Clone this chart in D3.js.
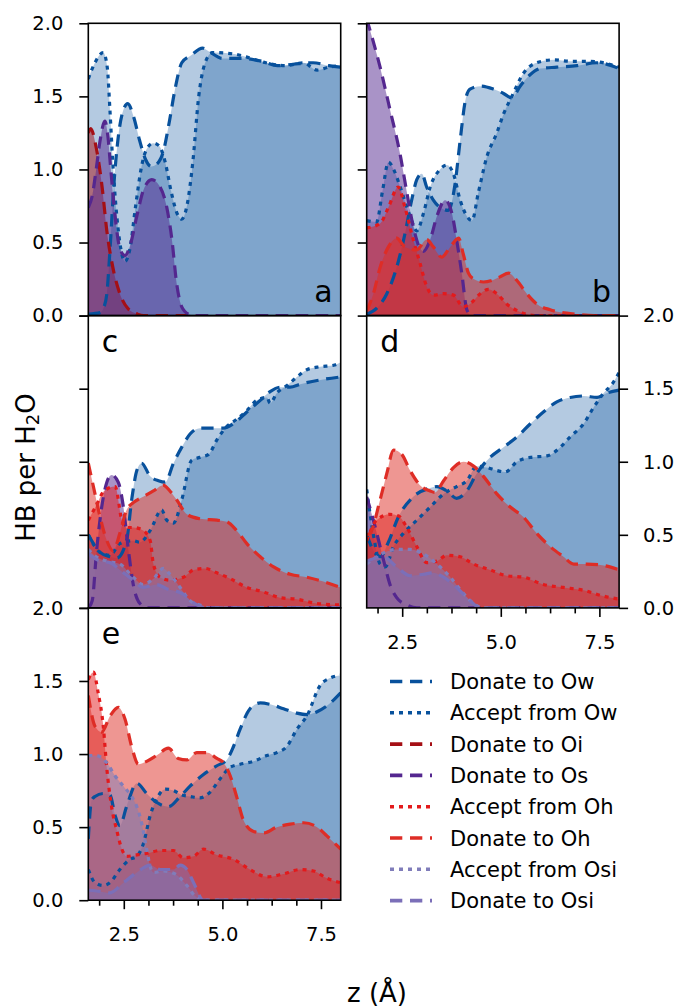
<!DOCTYPE html>
<html>
<head>
<meta charset="utf-8">
<script src="https://cdn.jsdelivr.net/npm/d3@7"></script>
<style>
  body { margin: 0; background: #fff; }
  text { font-family: "DejaVu Sans", sans-serif; }
</style>
</head>
<body>
<script>
// ---- data: [z (Å), HB per H2O] ----
const zTicks = [2.5, 5.0, 7.5];
const zMinorTicks = [1.875, 3.125, 3.75, 4.375, 5.625, 6.25, 6.875];
const yTicks = [0, 0.5, 1.0, 1.5, 2.0];

const seriesKeys = ["donOw", "accOw", "donOi", "donOs", "accOh", "donOh", "accOsi", "donOsi"];
const seriesLabels = ["Donate to Ow", "Accept from Ow", "Donate to Oi", "Donate to Os",
  "Accept from Oh", "Donate to Oh", "Accept from Osi", "Donate to Osi"];

// panel a
const a_donOw = [[1.6,0.01],[1.9,0.02],[2.0,0.06],[2.07,0.15],[2.15,0.45],[2.25,0.9],[2.35,1.2],[2.45,1.37],[2.6,1.45],[2.75,1.36],[2.9,1.2],[3.05,1.07],[3.2,1.02],[3.35,1.04],[3.5,1.12],[3.65,1.32],[3.8,1.55],[3.97,1.73],[4.2,1.78],[4.5,1.83],[4.7,1.8],[5.0,1.76],[5.5,1.76],[6.0,1.74],[6.4,1.71],[6.8,1.72],[7.3,1.73],[7.7,1.71],[8.0,1.70]];
const a_accOw = [[1.6,1.62],[1.75,1.72],[1.98,1.8],[2.08,1.7],[2.15,1.4],[2.22,1.05],[2.3,0.75],[2.4,0.5],[2.53,0.37],[2.65,0.45],[2.8,0.75],[2.95,1.02],[3.08,1.14],[3.25,1.18],[3.4,1.16],[3.55,1.05],[3.7,0.85],[3.85,0.7],[3.97,0.66],[4.1,0.75],[4.25,1.05],[4.4,1.5],[4.55,1.72],[4.75,1.8],[5.3,1.79],[5.6,1.77],[6.1,1.73],[6.6,1.71],[7.05,1.73],[7.4,1.68],[7.7,1.7],[8.0,1.71]];
const a_donOi = [[1.6,1.25],[1.66,1.28],[1.8,1.15],[1.95,0.88],[2.07,0.58],[2.23,0.32],[2.4,0.15],[2.6,0.05],[2.85,0.01],[3.0,0],[8.0,0]];
const a_donOs = [[1.6,0.74],[1.7,0.82],[1.8,1.0],[1.9,1.2],[2.02,1.33],[2.1,1.22],[2.17,1.0],[2.28,0.68],[2.4,0.46],[2.53,0.41],[2.66,0.48],[2.83,0.68],[3.0,0.86],[3.21,0.93],[3.42,0.88],[3.59,0.74],[3.72,0.52],[3.84,0.22],[3.97,0.06],[4.14,0.01],[4.3,0],[8.0,0]];

// panel b
const b_donOw = [[1.6,0.01],[1.85,0.05],[2.11,0.15],[2.36,0.33],[2.57,0.56],[2.74,0.79],[2.87,0.93],[3.0,0.97],[3.12,0.88],[3.29,0.79],[3.46,0.74],[3.67,0.72],[3.84,0.9],[3.97,1.2],[4.1,1.47],[4.22,1.55],[4.48,1.57],[4.81,1.55],[5.07,1.52],[5.28,1.49],[5.49,1.57],[5.75,1.65],[6.0,1.69],[6.42,1.70],[6.93,1.71],[7.44,1.73],[8.0,1.69]];
const b_accOw = [[1.6,0.65],[1.85,0.64],[2.0,0.85],[2.15,1.05],[2.3,0.99],[2.45,0.88],[2.7,0.68],[2.87,0.58],[3.04,0.7],[3.21,0.88],[3.46,1.0],[3.63,1.03],[3.8,0.97],[3.97,0.79],[4.14,0.68],[4.27,0.65],[4.43,0.84],[4.65,1.09],[4.9,1.25],[5.07,1.38],[5.28,1.5],[5.58,1.66],[5.91,1.73],[6.34,1.75],[6.76,1.74],[7.27,1.74],[8.0,1.70]];
const b_donOs = [[1.6,2.03],[1.94,1.7],[2.19,1.41],[2.45,1.1],[2.62,0.84],[2.78,0.61],[2.95,0.46],[3.04,0.44],[3.21,0.52],[3.38,0.68],[3.59,0.79],[3.76,0.7],[3.88,0.52],[4.01,0.29],[4.14,0.04],[4.25,0],[8.0,0]];
const b_accOh = [[1.6,0.6],[1.94,0.63],[2.15,0.74],[2.4,0.88],[2.57,0.74],[2.78,0.52],[2.95,0.36],[3.12,0.2],[3.29,0.14],[3.55,0.15],[3.8,0.14],[4.05,0.06],[4.22,0.08],[4.48,0.15],[4.69,0.18],[4.9,0.15],[5.15,0.08],[5.49,0.025],[5.91,0],[8.0,0]];
const b_donOh = [[1.6,0.03],[1.77,0.15],[1.94,0.33],[2.15,0.47],[2.36,0.53],[2.57,0.47],[2.87,0.45],[3.12,0.52],[3.29,0.47],[3.5,0.4],[3.72,0.47],[3.93,0.53],[4.05,0.42],[4.18,0.29],[4.31,0.25],[4.56,0.23],[4.77,0.24],[4.98,0.265],[5.2,0.29],[5.41,0.24],[5.66,0.15],[5.91,0.08],[6.25,0.04],[6.76,0.014],[7.44,0],[8.0,0]];

// panel c
const c_donOw = [[1.6,0.5],[1.9,0.38],[2.15,0.35],[2.32,0.34],[2.57,0.46],[2.7,0.74],[2.83,0.94],[2.95,0.99],[3.17,0.9],[3.38,0.87],[3.55,0.86],[3.76,0.99],[3.97,1.1],[4.18,1.19],[4.43,1.23],[4.77,1.23],[5.03,1.23],[5.28,1.26],[5.62,1.34],[5.96,1.42],[6.21,1.48],[6.46,1.51],[6.72,1.51],[6.97,1.53],[7.48,1.56],[8.0,1.58]];
const c_accOw = [[1.6,0.5],[1.9,0.38],[2.15,0.36],[2.4,0.44],[2.74,0.46],[2.91,0.45],[3.17,0.53],[3.46,0.67],[3.59,0.6],[3.76,0.58],[3.97,0.74],[4.22,1.01],[4.43,1.03],[4.65,1.05],[4.86,1.15],[5.11,1.24],[5.36,1.29],[5.62,1.35],[5.87,1.42],[6.13,1.44],[6.21,1.40],[6.38,1.47],[6.63,1.52],[6.89,1.58],[7.14,1.63],[7.48,1.65],[7.82,1.66],[8.0,1.68]];
const c_donOs = [[1.6,0],[1.7,0.05],[1.81,0.39],[1.94,0.69],[2.07,0.86],[2.19,0.91],[2.36,0.86],[2.49,0.69],[2.62,0.39],[2.74,0.16],[2.91,0.03],[3.1,0],[8.0,0]];
const c_accOh = [[1.6,0.6],[1.8,0.7],[2.0,0.8],[2.28,0.83],[2.45,0.6],[2.57,0.55],[2.74,0.55],[2.99,0.53],[3.17,0.46],[3.25,0.3],[3.42,0.21],[3.67,0.19],[4.01,0.21],[4.27,0.26],[4.56,0.27],[4.86,0.24],[5.2,0.2],[5.62,0.14],[6.04,0.11],[6.46,0.07],[6.89,0.06],[7.4,0.03],[8.0,0.02]];
const c_donOh = [[1.6,0.99],[1.77,0.78],[1.9,0.62],[2.07,0.46],[2.23,0.39],[2.4,0.51],[2.57,0.67],[2.74,0.72],[2.99,0.76],[3.25,0.8],[3.5,0.84],[3.67,0.8],[3.84,0.74],[4.1,0.64],[4.43,0.61],[4.86,0.6],[5.11,0.59],[5.36,0.53],[5.62,0.44],[5.96,0.35],[6.3,0.28],[6.72,0.23],[7.14,0.21],[7.56,0.18],[8.0,0.14]];
const c_accOsi = [[1.6,0.4],[1.8,0.35],[2.07,0.32],[2.4,0.3],[2.74,0.21],[2.99,0.16],[3.25,0.2],[3.5,0.27],[3.67,0.23],[3.93,0.14],[4.18,0.05],[4.43,0.02],[4.7,0],[8.0,0]];
const c_donOsi = [[1.6,0.37],[1.9,0.32],[2.15,0.31],[2.4,0.26],[2.74,0.19],[2.99,0.14],[3.33,0.16],[3.6,0.13],[3.97,0.1],[4.3,0.03],[4.6,0],[8.0,0]];

// panel d
const d_donOw = [[1.6,0.5],[1.8,0.38],[1.95,0.35],[2.15,0.45],[2.4,0.62],[2.78,0.76],[3.21,0.82],[3.38,0.83],[3.63,0.8],[3.88,0.75],[4.14,0.8],[4.39,0.92],[4.73,1.03],[5.07,1.1],[5.41,1.17],[5.75,1.26],[6.08,1.34],[6.42,1.41],[6.76,1.44],[7.1,1.45],[7.44,1.44],[7.69,1.47],[8.0,1.49]];
const d_accOw = [[1.6,0.81],[1.77,0.5],[1.94,0.3],[2.07,0.28],[2.28,0.42],[2.53,0.51],[2.87,0.6],[3.21,0.69],[3.55,0.78],[3.88,0.83],[4.14,0.87],[4.39,0.97],[4.65,0.96],[4.9,0.94],[5.11,0.93],[5.41,1.0],[5.75,1.03],[6.17,1.04],[6.51,1.1],[6.76,1.17],[7.1,1.26],[7.35,1.37],[7.61,1.47],[7.82,1.53],[8.0,1.61]];
const d_donOs = [[1.6,0.76],[1.77,0.6],[1.94,0.42],[2.07,0.28],[2.19,0.16],[2.36,0.07],[2.62,0.02],[2.87,0],[8.0,0]];
const d_accOh = [[1.6,0.46],[1.85,0.6],[2.19,0.64],[2.4,0.63],[2.62,0.55],[2.87,0.42],[3.12,0.31],[3.38,0.32],[3.63,0.36],[3.97,0.35],[4.31,0.3],[4.73,0.26],[5.15,0.22],[5.58,0.21],[6.08,0.16],[6.59,0.14],[7.1,0.12],[7.61,0.08],[8.0,0.06]];
const d_donOh = [[1.6,0.5],[1.68,0.51],[1.94,0.74],[2.11,0.92],[2.28,1.08],[2.49,1.05],[2.7,0.94],[2.95,0.84],[3.21,0.8],[3.33,0.79],[3.55,0.87],[3.8,0.96],[4.05,1.0],[4.31,0.97],[4.56,0.9],[4.9,0.78],[5.24,0.69],[5.58,0.62],[5.91,0.51],[6.25,0.42],[6.59,0.35],[6.85,0.3],[7.18,0.3],[7.61,0.29],[8.0,0.26]];
const d_accOsi = [[1.6,0.3],[1.85,0.35],[2.36,0.4],[2.7,0.4],[3.04,0.37],[3.38,0.3],[3.72,0.21],[4.05,0.1],[4.31,0.03],[4.56,0],[8.0,0]];
const d_donOsi = [[1.6,0.32],[2.02,0.35],[2.36,0.28],[2.7,0.22],[3.04,0.23],[3.29,0.24],[3.55,0.21],[3.88,0.14],[4.22,0.05],[4.48,0],[8.0,0]];

// panel e
const e_donOw = [[1.6,0.42],[1.68,0.68],[1.77,0.71],[1.98,0.73],[2.15,0.72],[2.28,0.58],[2.4,0.51],[2.57,0.64],[2.83,0.8],[3.08,0.73],[3.33,0.67],[3.63,0.64],[3.93,0.71],[4.18,0.78],[4.52,0.86],[4.86,0.92],[5.11,0.96],[5.28,1.05],[5.45,1.17],[5.7,1.31],[5.96,1.35],[6.21,1.34],[6.55,1.31],[6.89,1.28],[7.14,1.27],[7.4,1.29],[7.65,1.33],[8.0,1.42]];
const e_accOw = [[1.6,0.21],[1.77,0.12],[1.98,0.1],[2.15,0.12],[2.4,0.21],[2.66,0.28],[2.83,0.3],[3.0,0.39],[3.17,0.58],[3.33,0.69],[3.55,0.76],[3.76,0.75],[3.97,0.72],[4.18,0.71],[4.43,0.7],[4.69,0.74],[4.94,0.83],[5.2,0.91],[5.45,0.93],[5.79,0.95],[6.13,0.99],[6.38,1.01],[6.63,1.05],[6.89,1.17],[7.14,1.26],[7.48,1.47],[7.73,1.52],[8.0,1.54]];
const e_accOh = [[1.6,1.51],[1.73,1.56],[1.85,1.42],[1.98,1.19],[2.07,0.9],[2.19,0.64],[2.32,0.48],[2.45,0.35],[2.57,0.3],[2.83,0.31],[3.08,0.32],[3.42,0.34],[3.76,0.34],[4.01,0.29],[4.27,0.3],[4.52,0.35],[4.86,0.31],[5.28,0.28],[5.7,0.21],[6.13,0.16],[6.55,0.18],[6.97,0.21],[7.31,0.2],[7.65,0.15],[8.0,0.12]];
const e_donOh = [[1.6,1.4],[1.77,1.19],[1.94,1.15],[2.15,1.26],[2.36,1.32],[2.53,1.24],[2.7,1.05],[2.87,0.93],[3.08,0.95],[3.33,0.99],[3.63,1.04],[3.88,0.97],[4.1,0.96],[4.35,1.01],[4.6,1.01],[4.86,0.97],[5.03,0.94],[5.2,0.85],[5.36,0.71],[5.53,0.55],[5.79,0.47],[6.04,0.46],[6.38,0.5],[6.72,0.52],[7.06,0.53],[7.4,0.5],[7.65,0.44],[8.0,0.35]];
const e_accOsi = [[1.6,0.99],[1.8,0.99],[2.07,0.94],[2.28,0.85],[2.49,0.78],[2.7,0.71],[2.83,0.64],[2.95,0.53],[3.08,0.35],[3.17,0.23],[3.25,0.19],[3.5,0.2],[3.8,0.18],[4.1,0.1],[4.3,0.03],[4.5,0],[8.0,0]];
const e_donOsi = [[1.6,0.07],[1.9,0.06],[2.15,0.05],[2.49,0.12],[2.83,0.19],[3.17,0.24],[3.42,0.21],[3.76,0.21],[3.93,0.24],[4.1,0.21],[4.27,0.12],[4.52,0],[8.0,0]];

// ---- styles ----
const seriesColors = {
  donOw: "#08519c", accOw: "#08519c", donOi: "#a50f15", donOs: "#54278f",
  accOh: "#e31a1c", donOh: "#de2d26", accOsi: "#807dba", donOsi: "#7b6fb8"
};
const seriesAlpha = { donOw: 0.3, accOw: 0.3, donOi: 0.5, donOs: 0.5, accOh: 0.5, donOh: 0.5, accOsi: 0.5, donOsi: 0.5 };
const DASH = "12.3,7.7", DOT = "4,5";
const seriesDash = { donOw: DASH, accOw: DOT, donOi: DASH, donOs: DASH, accOh: DOT, donOh: DASH, accOsi: DOT, donOsi: DASH };

const W = 681, H = 1007;
const colX = [88.3, 366.7];
const rowY = [23.3, 315.6, 607.9];
const pw = 252.4, ph = 292.3;

const panels = [
  { id: "a", x: colX[0], y: rowY[0], yAxis: "left", yLab: true, xAxis: false, xLab: false, corner: "br",
    series: { donOw: a_donOw, accOw: a_accOw, donOi: a_donOi, donOs: a_donOs } },
  { id: "b", x: colX[1], y: rowY[0], yAxis: "left", yLab: false, xAxis: false, xLab: false, corner: "br",
    series: { donOw: b_donOw, accOw: b_accOw, donOs: b_donOs, accOh: b_accOh, donOh: b_donOh } },
  { id: "c", x: colX[0], y: rowY[1], yAxis: "left", yLab: false, xAxis: false, xLab: false, corner: "tl",
    series: { donOw: c_donOw, accOw: c_accOw, donOs: c_donOs, accOh: c_accOh, donOh: c_donOh, accOsi: c_accOsi, donOsi: c_donOsi } },
  { id: "d", x: colX[1], y: rowY[1], yAxis: "right", yLab: true, xAxis: true, xLab: true, corner: "tl",
    series: { donOw: d_donOw, accOw: d_accOw, donOs: d_donOs, accOh: d_accOh, donOh: d_donOh, accOsi: d_accOsi, donOsi: d_donOsi } },
  { id: "e", x: colX[0], y: rowY[2], yAxis: "left", yLab: true, xAxis: true, xLab: true, corner: "tl",
    series: { donOw: e_donOw, accOw: e_accOw, accOh: e_accOh, donOh: e_donOh, accOsi: e_accOsi, donOsi: e_donOsi } }
];

const svg = d3.select("body").append("svg")
  .attr("width", W).attr("height", H);

const x = d3.scaleLinear().domain([1.6, 8.0]).range([0, pw]);
const y = d3.scaleLinear().domain([0, 2.0]).range([ph, 0]);

const area = d3.area().x(d => x(d[0])).y0(ph).y1(d => y(d[1])).curve(d3.curveMonotoneX);
const line = d3.line().x(d => x(d[0])).y(d => y(d[1])).curve(d3.curveMonotoneX);

const TICK_FONT = 19.5;

panels.forEach(p => {
  const g = svg.append("g").attr("transform", `translate(${p.x},${p.y})`);

  g.append("clipPath").attr("id", "clip-" + p.id)
    .append("rect").attr("width", pw).attr("height", ph);

  const plot = g.append("g").attr("clip-path", `url(#clip-${p.id})`);
  const keys = seriesKeys.filter(k => p.series[k]);

  // fills first, then the lines on top
  keys.forEach(k => {
    plot.append("path").datum(p.series[k])
      .attr("d", area)
      .attr("fill", seriesColors[k])
      .attr("fill-opacity", seriesAlpha[k]);
  });
  keys.forEach(k => {
    plot.append("path").datum(p.series[k])
      .attr("d", line)
      .attr("fill", "none")
      .attr("stroke", seriesColors[k])
      .attr("stroke-width", 3.2)
      .attr("stroke-dasharray", seriesDash[k]);
  });

  // y axis
  const yAx = (p.yAxis === "left" ? d3.axisLeft(y) : d3.axisRight(y))
    .tickValues(yTicks).tickSize(9).tickPadding(p.yAxis === "left" ? 16 : 15)
    .tickFormat(p.yLab ? d3.format(".1f") : () => "");
  g.append("g")
    .attr("transform", p.yAxis === "left" ? null : `translate(${pw},0)`)
    .call(yAx);

  // x axis
  if (p.xAxis) {
    const xMinor = d3.axisBottom(x).tickValues(zMinorTicks).tickSize(5.5).tickFormat(() => "");
    g.append("g").attr("transform", `translate(0,${ph})`).call(xMinor);
    const xAx = d3.axisBottom(x).tickValues(zTicks).tickSize(9).tickPadding(18)
      .tickFormat(p.xLab ? d3.format(".1f") : () => "");
    g.append("g").attr("transform", `translate(0,${ph})`).call(xAx);
  }

  g.selectAll(".domain").remove();
  g.selectAll(".tick line").attr("stroke", "#000").attr("stroke-width", 1.6);
  g.selectAll(".tick text").attr("font-size", TICK_FONT).attr("fill", "#000")
    .attr("font-family", "DejaVu Sans");

  // frame
  g.append("rect").attr("width", pw).attr("height", ph)
    .attr("fill", "none").attr("stroke", "#000").attr("stroke-width", 1.6);

  // panel letter
  const lt = g.append("text").text(p.id).attr("font-size", 30).attr("fill", "#000");
  if (p.corner === "br") {
    lt.attr("x", pw - 8).attr("y", ph - 13.5).attr("text-anchor", "end");
  } else {
    lt.attr("x", 13.5).attr("y", 36.5);
  }
});

// axis labels
const yl = svg.append("text")
  .attr("transform", "translate(35,467.5) rotate(-90)")
  .attr("text-anchor", "middle").attr("font-size", 26).attr("fill", "#000");
yl.append("tspan").text("HB per H");
yl.append("tspan").text("2").attr("font-size", 18).attr("dy", 3.5);
yl.append("tspan").text("O").attr("dy", -3.5);

svg.append("text").attr("x", 377).attr("y", 1002)
  .attr("text-anchor", "middle").attr("font-size", 26).attr("fill", "#000")
  .text("z (Å)");

// legend
const leg = svg.append("g").attr("transform", "translate(390,681.5)");
seriesKeys.forEach((k, i) => {
  const row = leg.append("g").attr("transform", `translate(0,${i * 31.3})`);
  row.append("line").attr("x1", 0).attr("x2", 42).attr("y1", 0).attr("y2", 0)
    .attr("stroke", seriesColors[k]).attr("stroke-width", 3.6)
    .attr("stroke-dasharray", seriesDash[k]);
  row.append("text").attr("x", 60).attr("y", 0).attr("dy", "0.36em")
    .attr("font-size", 21).attr("fill", "#000").text(seriesLabels[i]);
});
</script>
</body>
</html>
